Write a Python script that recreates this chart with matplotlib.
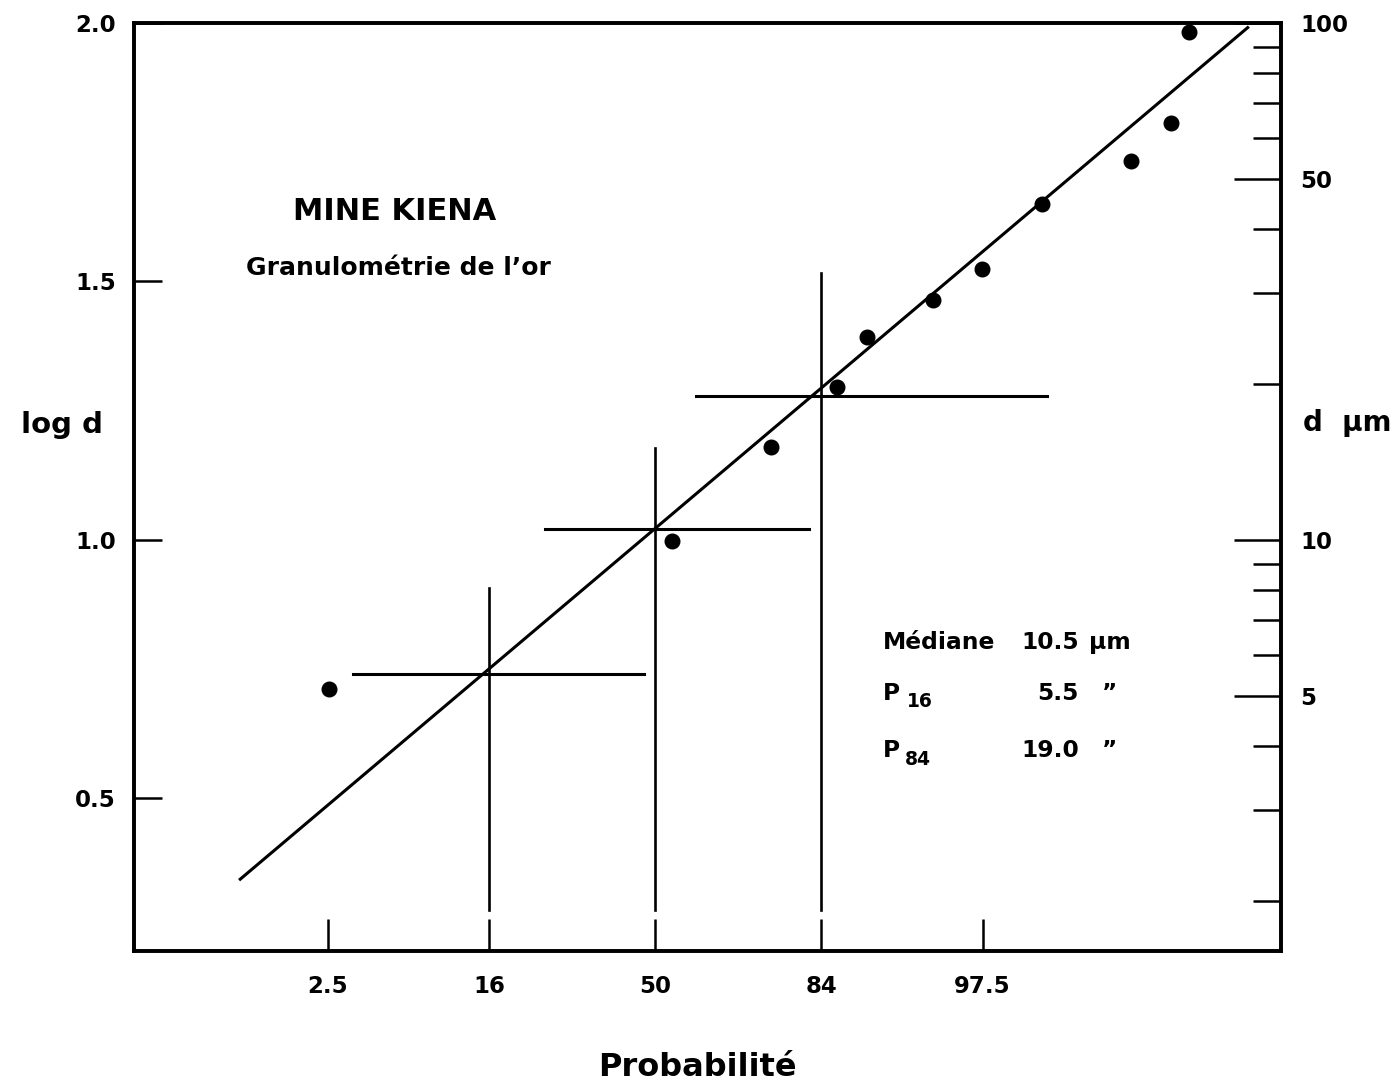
import matplotlib
matplotlib.use('Agg')
import matplotlib.pyplot as plt
from statistics import NormalDist
import math

plt.rcParams['font.family'] = ['DejaVu Sans']

# ---------------- data ----------------
prob_ticks = [2.5, 16, 50, 84, 97.5]
prob_tick_labels = ['2.5', '16', '50', '84', '97.5']
logd_ticks = [0.5, 1.0, 1.5, 2.0]
logd_tick_labels = ['0.5', '1.0', '1.5', '2.0']
d_major_ticks = [5, 10, 50, 100]
d_major_labels = ['5', '10', '50', '100']
d_minor_ticks = [2, 3, 4, 6, 7, 8, 9, 20, 30, 40, 60, 70, 80, 90]

sample_prob = [2.56, 54.05, 75.6, 86.15, 89.74, 95.19, 97.48, 98.97, 99.779, 99.899, 99.9305]
sample_logd = [0.712, 0.999, 1.179, 1.295, 1.392, 1.464, 1.524, 1.649, 1.734, 1.806, 1.983]

fit_prob = [0.64, 99.981]
fit_logd = [0.342, 1.993]

pct_prob = [16, 50, 84]
pct_d = [5.5, 10.5, 19.0]

# ---------------- layout constants ----------------
ZMIN, ZMAX = -3.118, 3.746
YMIN, YMAX = 0.205, 2.0
cross_vbottom = 0.284
cross_vtop = [0.907, 1.177, 1.516]
cross_hext = [(-1.809, -0.066), (-0.658, 0.922), (0.245, 2.346)]

nd = NormalDist()
def z(p):
    return nd.inv_cdf(p / 100.0)

W, H = 1399, 1088
fig = plt.figure(figsize=(W / 100, H / 100), dpi=100)
ax = fig.add_axes([134 / W, 1 - 951 / H, (1281 - 134) / W, (951 - 23) / H])
ax.set_xlim(ZMIN, ZMAX)
ax.set_ylim(YMIN, YMAX)

for s in ax.spines.values():
    s.set_linewidth(2.6)

# fitted line
ax.plot([z(p) for p in fit_prob], fit_logd, color='black', lw=2.2, solid_capstyle='butt')

# crosshairs at percentiles
for p, d, top, (x0, x1) in zip(pct_prob, pct_d, cross_vtop, cross_hext):
    zc = z(p)
    ax.plot([zc, zc], [cross_vbottom, top], color='black', lw=1.9)
    ax.plot([x0, x1], [math.log10(d), math.log10(d)], color='black', lw=2.2)

# sample points
ax.plot([z(p) for p in sample_prob], sample_logd, 'o', color='black',
        markersize=10.5, clip_on=False, zorder=5)

# bottom ticks
ax.set_xticks([z(p) for p in prob_ticks])
ax.set_xticklabels(prob_tick_labels, fontsize=16.5, fontweight='bold')
ax.tick_params(axis='x', direction='in', length=23, width=1.8, pad=17)

# left ticks
ax.set_yticks(logd_ticks)
ax.set_yticklabels(logd_tick_labels, fontsize=16.5, fontweight='bold')
ax.tick_params(axis='y', direction='in', length=20, width=1.8, pad=13)

# right log axis
ax2 = ax.twinx()
ax2.set_yscale('log')
ax2.set_ylim(10 ** YMIN, 10 ** YMAX)
ax2.set_yticks(d_major_ticks)
ax2.set_yticklabels(d_major_labels, fontsize=16.5, fontweight='bold')
ax2.set_yticks(d_minor_ticks, minor=True)
ax2.set_yticklabels([], minor=True)
ax2.tick_params(axis='y', which='major', direction='in', length=34, width=1.8, pad=14)
ax2.tick_params(axis='y', which='minor', direction='in', length=20, width=1.8)
for s in ax2.spines.values():
    s.set_linewidth(2.6)

# texts
def ft(x, y, s, **kw):
    fig.text(x / W, 1 - y / H, s, **kw)

ft(395, 211, 'MINE KIENA', fontsize=22, fontweight='bold', ha='center', va='center')
ft(398, 268, "Granulométrie de l\u2019or", fontsize=18, fontweight='bold', ha='center', va='center')
ft(62, 425, 'log d', fontsize=21, fontweight='bold', ha='center', va='center')
ft(1347, 423, 'd  µm', fontsize=20, fontweight='bold', ha='center', va='center')
ft(697, 1068, 'Probabilité', fontsize=23, fontweight='bold', ha='center', va='center')

# statistics block
FS = 16.8
ft(883, 649, 'Médiane', fontsize=FS, fontweight='bold', ha='left', va='baseline')
ft(1079, 649, '10.5', fontsize=FS, fontweight='bold', ha='right', va='baseline')
ft(1089, 649, 'µm', fontsize=FS, fontweight='bold', ha='left', va='baseline')

ft(883, 700, 'P', fontsize=FS, fontweight='bold', ha='left', va='baseline')
ft(907, 707, '16', fontsize=13.5, fontweight='bold', ha='left', va='baseline')
ft(1079, 700, '5.5', fontsize=FS, fontweight='bold', ha='right', va='baseline')
ft(1102, 700, '\u201d', fontsize=FS, fontweight='bold', ha='left', va='baseline')

ft(883, 757, 'P', fontsize=FS, fontweight='bold', ha='left', va='baseline')
ft(905, 765, '84', fontsize=13.5, fontweight='bold', ha='left', va='baseline')
ft(1079, 757, '19.0', fontsize=FS, fontweight='bold', ha='right', va='baseline')
ft(1102, 757, '\u201d', fontsize=FS, fontweight='bold', ha='left', va='baseline')

fig.savefig('out.png', dpi=100, facecolor='white')
